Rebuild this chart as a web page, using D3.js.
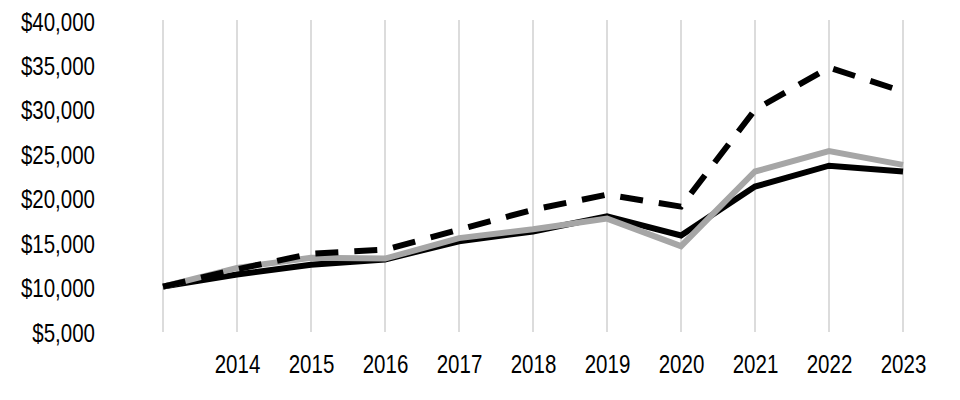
<!DOCTYPE html>
<html>
<head>
<meta charset="utf-8">
<script src="https://cdn.jsdelivr.net/npm/d3@7/dist/d3.min.js"></script>
<style>
    body { margin: 0; background: #fff; }
    svg text { font-family: "Liberation Sans", Arial, sans-serif; font-size: 25px; fill: #000; }
    .axis .domain { display: none; }
    .grid line { stroke: #dcdcdc; stroke-width: 2; }
</style>
</head>
<body>
<div id="chart"></div>
<script>
/*global d3*/
var years = [2013, 2014, 2015, 2016, 2017, 2018, 2019, 2020, 2021, 2022, 2023];
var tickYears = [2014, 2015, 2016, 2017, 2018, 2019, 2020, 2021, 2022, 2023];
var yTicks = [5000, 10000, 15000, 20000, 25000, 30000, 35000, 40000];
// black solid line
var fundValues = [10000, 11350, 12450, 13050, 15100, 16200, 17900, 15750, 21250, 23600, 22950];
// grey line
var indexValues = [10000, 12100, 13250, 13150, 15450, 16450, 17650, 14550, 22950, 25250, 23700];
// dashed line
var broadValues = [10000, 11950, 13700, 14150, 16400, 18650, 20350, 19000, 29900, 34650, 31950];

(function () {
    "use strict";
    var width = 960;
    var height = 400;
    var margin = {top: 20, left: 163, right: 57, bottom: 69};
    var narrow = "scale(0.82,1)"; // no narrow font installed, squeeze the regular one

    var svg = d3.select("#chart").append("svg")
        .attr("width", width)
        .attr("height", height);

    var x = d3.scaleLinear()
        .domain([2013, 2023])
        .range([margin.left, width - margin.right]);
    var y = d3.scaleLinear()
        .domain([5000, 40000])
        .range([height - margin.bottom, margin.top]);

    // vertical gridlines
    svg.append("g")
        .attr("class", "grid")
        .selectAll("line")
        .data(years)
        .enter()
        .append("line")
        .attr("x1", function (d) { return x(d); })
        .attr("x2", function (d) { return x(d); })
        .attr("y1", y(40000))
        .attr("y2", y(5000) + 1);

    var fmt = d3.format(",");
    svg.append("g")
        .attr("class", "axis")
        .attr("transform", "translate(95,2)")
        .call(d3.axisLeft(y).tickValues(yTicks).tickSize(0).tickPadding(0)
            .tickFormat(function (d) { return "$" + fmt(d); }))
        .selectAll("text")
        .attr("transform", narrow);

    svg.append("g")
        .attr("class", "axis")
        .attr("transform", "translate(0," + (height - margin.bottom + 16) + ")")
        .call(d3.axisBottom(x).tickValues(tickYears).tickSize(0).tickPadding(8)
            .tickFormat(d3.format("d")))
        .selectAll("text")
        .attr("transform", narrow);

    var line = d3.line()
        .x(function (d, i) { return x(years[i]); })
        .y(function (d) { return y(d); });

    svg.append("path")
        .datum(fundValues)
        .attr("fill", "none")
        .attr("stroke", "#000")
        .attr("stroke-width", 6)
        .attr("d", line);

    svg.append("path")
        .datum(indexValues)
        .attr("fill", "none")
        .attr("stroke", "#a6a6a6")
        .attr("stroke-width", 6)
        .attr("d", line);

    svg.append("path")
        .datum(broadValues)
        .attr("fill", "none")
        .attr("stroke", "#000")
        .attr("stroke-width", 6)
        .attr("stroke-dasharray", "23,16")
        .attr("d", line);
}());
</script>
</body>
</html>
